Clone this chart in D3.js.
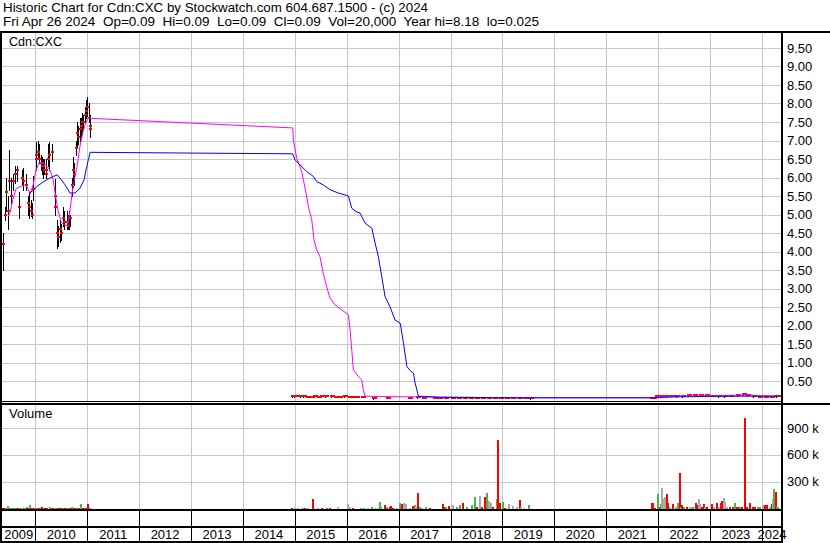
<!DOCTYPE html>
<html>
<head>
<meta charset="utf-8">
<script src="https://d3js.org/d3.v7.min.js"></script>
<style>
  body { margin: 0; background: #fff; }
  svg { display: block; font-family: "Liberation Sans", Arial, sans-serif; font-size: 13px; }
  .grid { stroke: #c8c8c8; stroke-width: 1; shape-rendering: crispEdges; }
  .frame { fill: #000; shape-rendering: crispEdges; }
  .sep { stroke: #000; stroke-width: 1; shape-rendering: crispEdges; }
  .ma { fill: none; stroke-width: 1; }
</style>
</head>
<body>
<svg id="chart" width="830" height="543"></svg>
<script>
var title = "Historic Chart for Cdn:CXC by Stockwatch.com 604.687.1500 - (c) 2024";
var subtitle = "Fri Apr 26 2024  Op=0.09  Hi=0.09  Lo=0.09  Cl=0.09  Vol=20,000  Year hi=8.18  lo=0.025";
var symbol = "Cdn:CXC";

var priceTicks = [0.5, 1, 1.5, 2, 2.5, 3, 3.5, 4, 4.5, 5, 5.5, 6, 6.5, 7, 7.5, 8, 8.5, 9, 9.5];
var volumeTicks = [300000, 600000, 900000];
var years = [2009, 2010, 2011, 2012, 2013, 2014, 2015, 2016, 2017, 2018, 2019, 2020, 2021, 2022, 2023, 2024];

// date, high, low, close
var bars = [
  ["2009-05-19", 4.5, 3.5, 4.2], ["2009-05-31", 5.2, 4.85, 5.0], ["2009-06-09", 6.0, 5.1, 5.6],
  ["2009-06-19", 5.5, 4.6, 5.1], ["2009-07-02", 6.75, 5.65, 5.9], ["2009-07-14", 6.0, 5.3, 5.5],
  ["2009-07-26", 6.1, 5.65, 5.9], ["2009-08-09", 6.3, 5.85, 6.1], ["2009-08-22", 6.3, 5.9, 6.2],
  ["2009-09-06", 5.6, 4.9, 5.2], ["2009-09-27", 6.2, 5.8, 6.0], ["2009-10-09", 6.25, 5.65, 5.9],
  ["2009-10-28", 6.1, 5.65, 5.8], ["2009-11-10", 5.5, 5.0, 5.3], ["2009-11-18", 5.6, 4.9, 5.2],
  ["2009-12-02", 5.4, 4.95, 5.1], ["2009-12-08", 5.3, 4.9, 5.0], ["2009-12-18", 6.05, 5.4, 5.7],
  ["2010-01-04", 6.95, 6.2, 6.5], ["2010-01-08", 6.9, 6.3, 6.6], ["2010-01-20", 7.0, 6.5, 6.7],
  ["2010-01-26", 6.9, 6.4, 6.5], ["2010-02-08", 6.6, 6.2, 6.4], ["2010-02-16", 6.55, 6.1, 6.3],
  ["2010-02-24", 6.5, 6.0, 6.3], ["2010-03-05", 6.5, 6.1, 6.2], ["2010-03-15", 6.5, 6.1, 6.2],
  ["2010-03-19", 6.4, 6.0, 6.1], ["2010-03-31", 6.9, 6.3, 6.5], ["2010-04-07", 6.95, 6.2, 6.6],
  ["2010-04-26", 6.9, 6.45, 6.7], ["2010-05-17", 5.95, 5.2, 5.5], ["2010-05-21", 5.7, 5.0, 5.2],
  ["2010-06-03", 4.85, 4.1, 4.5], ["2010-06-09", 4.7, 4.15, 4.4], ["2010-06-24", 4.85, 4.25, 4.6],
  ["2010-06-30", 4.75, 4.3, 4.5], ["2010-07-15", 5.2, 4.7, 4.9], ["2010-07-23", 5.1, 4.6, 4.8],
  ["2010-08-09", 5.1, 4.6, 4.8], ["2010-08-19", 5.0, 4.6, 4.7], ["2010-08-26", 5.1, 4.6, 4.9],
  ["2010-09-02", 5.0, 4.7, 4.9], ["2010-09-16", 6.0, 5.5, 5.8], ["2010-09-23", 6.55, 5.75, 6.2],
  ["2010-09-30", 6.4, 5.8, 6.1], ["2010-10-14", 7.0, 6.6, 6.8], ["2010-10-21", 7.5, 6.85, 7.2],
  ["2010-10-28", 7.4, 6.9, 7.1], ["2010-11-08", 7.6, 7.0, 7.3], ["2010-11-15", 7.6, 7.1, 7.4],
  ["2010-11-25", 7.75, 7.2, 7.5], ["2010-12-02", 7.7, 7.3, 7.5], ["2010-12-17", 7.9, 7.5, 7.7],
  ["2010-12-23", 8.1, 7.6, 7.8], ["2010-12-30", 8.18, 7.65, 7.9], ["2011-01-10", 8.0, 7.5, 7.6],
  ["2011-01-17", 7.7, 7.2, 7.4], ["2011-01-21", 7.55, 7.1, 7.3],
  ["2014-12-12", 0.10, 0.08, 0.09], ["2014-12-29", 0.10, 0.08, 0.09], ["2015-01-15", 0.10, 0.09, 0.10],
  ["2015-02-05", 0.10, 0.08, 0.09], ["2015-03-02", 0.09, 0.08, 0.09], ["2015-03-25", 0.10, 0.08, 0.08],
  ["2015-04-20", 0.09, 0.07, 0.08], ["2015-05-15", 0.10, 0.08, 0.09], ["2015-06-10", 0.09, 0.08, 0.08],
  ["2015-07-06", 0.10, 0.08, 0.09], ["2015-08-04", 0.09, 0.08, 0.09], ["2015-09-10", 0.10, 0.08, 0.09],
  ["2015-10-08", 0.09, 0.08, 0.08], ["2015-11-05", 0.09, 0.07, 0.08], ["2015-12-10", 0.09, 0.08, 0.09],
  ["2016-01-20", 0.09, 0.07, 0.08], ["2016-02-10", 0.09, 0.08, 0.08], ["2016-03-10", 0.08, 0.07, 0.08],
  ["2016-04-20", 0.08, 0.06, 0.07], ["2016-07-01", 0.07, 0.02, 0.04], ["2016-10-12", 0.06, 0.04, 0.05],
  ["2017-03-15", 0.06, 0.04, 0.05], ["2017-05-12", 0.07, 0.04, 0.06], ["2017-06-20", 0.05, 0.04, 0.05],
  ["2017-09-05", 0.06, 0.03, 0.04], ["2017-10-10", 0.05, 0.04, 0.04], ["2017-11-20", 0.06, 0.04, 0.05],
  ["2018-01-10", 0.05, 0.03, 0.04], ["2018-02-20", 0.05, 0.04, 0.04], ["2018-04-05", 0.06, 0.04, 0.05],
  ["2018-05-15", 0.05, 0.03, 0.04], ["2018-06-26", 0.05, 0.04, 0.04], ["2018-08-08", 0.05, 0.03, 0.04],
  ["2018-09-20", 0.06, 0.04, 0.05], ["2018-11-01", 0.05, 0.04, 0.04], ["2018-12-12", 0.06, 0.04, 0.05],
  ["2019-01-25", 0.05, 0.03, 0.04], ["2019-03-10", 0.05, 0.04, 0.04], ["2019-04-25", 0.05, 0.03, 0.04],
  ["2019-06-10", 0.04, 0.03, 0.03], ["2019-07-15", 0.04, 0.025, 0.03],
  ["2021-11-10", 0.05, 0.03, 0.04], ["2021-11-25", 0.06, 0.04, 0.05], ["2021-12-15", 0.10, 0.06, 0.09],
  ["2022-01-20", 0.10, 0.08, 0.09], ["2022-02-25", 0.11, 0.08, 0.10], ["2022-04-05", 0.11, 0.09, 0.10],
  ["2022-05-10", 0.10, 0.08, 0.09], ["2022-06-20", 0.11, 0.08, 0.10], ["2022-08-01", 0.12, 0.09, 0.11],
  ["2022-09-12", 0.12, 0.10, 0.11], ["2022-10-25", 0.13, 0.10, 0.12], ["2022-12-05", 0.12, 0.10, 0.11],
  ["2023-01-18", 0.11, 0.09, 0.10], ["2023-03-01", 0.11, 0.08, 0.09], ["2023-04-12", 0.10, 0.08, 0.09],
  ["2023-05-25", 0.11, 0.09, 0.10], ["2023-07-10", 0.12, 0.09, 0.11], ["2023-08-20", 0.15, 0.11, 0.14],
  ["2023-09-20", 0.15, 0.10, 0.12], ["2023-10-30", 0.11, 0.08, 0.09], ["2023-12-10", 0.10, 0.07, 0.08],
  ["2024-01-22", 0.09, 0.07, 0.08], ["2024-03-05", 0.10, 0.07, 0.08], ["2024-04-10", 0.10, 0.08, 0.09],
  ["2024-04-26", 0.09, 0.09, 0.09]
];

// short moving average (magenta)
var maShort = [
  ["2009-06-23", 4.95], ["2009-07-07", 5.05], ["2009-07-26", 5.4], ["2009-08-18", 5.7],
  ["2009-09-15", 5.75], ["2009-10-14", 5.8], ["2009-11-04", 5.75], ["2009-11-25", 5.55],
  ["2009-12-16", 5.8], ["2010-01-06", 6.2], ["2010-01-27", 6.4], ["2010-02-24", 6.4],
  ["2010-03-24", 6.3], ["2010-04-14", 6.2], ["2010-05-06", 5.95], ["2010-05-23", 5.5],
  ["2010-06-10", 5.1], ["2010-07-01", 4.8], ["2010-07-22", 4.72], ["2010-08-12", 4.7],
  ["2010-08-26", 4.9], ["2010-09-14", 5.5], ["2010-09-30", 5.9], ["2010-10-21", 6.3],
  ["2010-11-11", 6.85], ["2010-12-03", 7.25], ["2010-12-24", 7.5], ["2011-01-07", 7.6],
  ["2011-01-21", 7.6], ["2014-12-17", 7.34], ["2014-12-23", 6.98], ["2015-01-14", 6.53],
  ["2015-02-19", 6.16], ["2015-03-02", 5.94], ["2015-03-21", 5.58], ["2015-04-06", 5.22],
  ["2015-04-30", 4.86], ["2015-05-16", 4.32], ["2015-06-04", 4.04], ["2015-06-27", 3.86],
  ["2015-07-20", 3.41], ["2015-08-13", 3.05], ["2015-09-06", 2.74], ["2015-10-11", 2.56],
  ["2015-11-27", 2.42], ["2016-01-13", 2.29], ["2016-01-25", 1.88], ["2016-02-06", 1.34],
  ["2016-02-17", 0.80], ["2016-03-23", 0.62], ["2016-04-16", 0.53], ["2016-04-27", 0.26],
  ["2016-05-09", 0.09], ["2016-08-20", 0.08], ["2017-05-15", 0.07], ["2018-12-10", 0.05],
  ["2019-07-15", 0.05], ["2021-11-10", 0.05], ["2022-03-10", 0.09], ["2022-10-15", 0.10],
  ["2023-05-01", 0.11], ["2023-09-15", 0.12], ["2023-12-25", 0.10], ["2024-04-26", 0.09]
];

// long moving average (blue)
var maLong = [
  ["2009-11-18", 5.58], ["2009-12-18", 5.65], ["2010-01-11", 5.76], ["2010-02-15", 5.85],
  ["2010-03-22", 5.94], ["2010-05-08", 6.03], ["2010-06-05", 6.07], ["2010-06-24", 5.98],
  ["2010-07-29", 5.8], ["2010-09-02", 5.58], ["2010-10-07", 5.58], ["2010-11-11", 5.71],
  ["2010-12-10", 5.94], ["2010-12-24", 6.21], ["2011-01-09", 6.48], ["2011-01-21", 6.68],
  ["2014-12-17", 6.64], ["2015-01-02", 6.48], ["2015-02-07", 6.34], ["2015-03-26", 6.16],
  ["2015-05-11", 6.03], ["2015-06-04", 5.89], ["2015-07-20", 5.8], ["2015-09-06", 5.67],
  ["2015-11-03", 5.58], ["2015-12-20", 5.53], ["2016-01-13", 5.5], ["2016-02-06", 5.17],
  ["2016-03-07", 5.08], ["2016-04-04", 5.04], ["2016-05-09", 4.77], ["2016-06-26", 4.63],
  ["2016-07-19", 4.23], ["2016-08-11", 3.86], ["2016-09-04", 3.32], ["2016-09-27", 2.78],
  ["2016-11-01", 2.51], ["2016-12-06", 2.15], ["2017-01-12", 2.06], ["2017-02-04", 1.52],
  ["2017-02-28", 0.89], ["2017-03-23", 0.78], ["2017-04-15", 0.71], ["2017-04-27", 0.44],
  ["2017-05-20", 0.09], ["2017-10-15", 0.06], ["2018-12-10", 0.05], ["2019-07-15", 0.045],
  ["2021-11-10", 0.045], ["2022-04-25", 0.07], ["2023-05-01", 0.09], ["2024-04-26", 0.09]
];

// date, shares, r = down / g = up / n = unchanged
var volume = [
  ["2009-05-19", 8000, "r"], ["2009-06-01", 6000, "r"], ["2009-06-12", 8000, "g"], ["2009-06-25", 30000, "g"],
  ["2009-07-06", 8000, "r"], ["2009-07-14", 8000, "g"], ["2009-07-24", 6000, "r"], ["2009-08-04", 8000, "g"],
  ["2009-08-14", 6000, "g"], ["2009-08-25", 6000, "r"], ["2009-09-04", 8000, "r"], ["2009-09-15", 6000, "g"],
  ["2009-09-25", 6000, "g"], ["2009-10-13", 8000, "r"], ["2009-10-23", 6000, "g"], ["2009-11-03", 12000, "g"],
  ["2009-11-13", 8000, "r"], ["2009-11-24", 38000, "g"], ["2009-12-04", 8000, "r"], ["2009-12-15", 8000, "r"],
  ["2009-12-28", 6000, "g"], ["2010-01-06", 10000, "r"], ["2010-01-15", 8000, "g"], ["2010-01-27", 8000, "r"],
  ["2010-02-05", 6000, "r"], ["2010-02-19", 20000, "r"], ["2010-03-01", 8000, "g"], ["2010-03-10", 6000, "r"],
  ["2010-03-24", 8000, "r"], ["2010-04-14", 15000, "g"], ["2010-04-26", 6000, "r"], ["2010-05-06", 8000, "r"],
  ["2010-05-17", 8000, "g"], ["2010-05-27", 6000, "g"], ["2010-06-10", 6000, "r"], ["2010-06-24", 8000, "r"],
  ["2010-07-05", 6000, "r"], ["2010-07-15", 6000, "g"], ["2010-07-26", 8000, "r"], ["2010-08-05", 6000, "r"],
  ["2010-08-20", 8000, "g"], ["2010-09-01", 6000, "r"], ["2010-09-14", 15000, "g"], ["2010-09-27", 6000, "r"],
  ["2010-10-07", 8000, "r"], ["2010-10-20", 8000, "g"], ["2010-11-01", 8000, "r"], ["2010-11-18", 45000, "g"],
  ["2010-12-01", 6000, "r"], ["2010-12-10", 8000, "r"], ["2010-12-22", 6000, "r"], ["2011-01-09", 50000, "r"],
  ["2011-01-21", 8000, "g"],
  ["2014-12-09", 8000, "r"], ["2015-01-02", 8000, "n"], ["2015-01-23", 6000, "n"], ["2015-02-28", 8000, "g"],
  ["2015-03-13", 8000, "r"], ["2015-04-03", 8000, "n"], ["2015-05-09", 105000, "r"], ["2015-05-16", 6000, "g"],
  ["2015-06-13", 8000, "n"], ["2015-07-11", 8000, "r"], ["2015-08-15", 8000, "g"], ["2015-09-05", 6000, "r"],
  ["2015-11-01", 12000, "n"], ["2016-01-11", 49000, "n"], ["2016-01-25", 20000, "n"], ["2016-02-13", 8000, "r"],
  ["2016-04-10", 8000, "g"], ["2016-05-01", 6000, "g"], ["2016-05-29", 8000, "n"], ["2016-06-26", 20000, "g"],
  ["2016-07-17", 8000, "n"], ["2016-08-07", 8000, "n"], ["2016-08-21", 71000, "g"], ["2016-09-02", 20000, "g"],
  ["2016-09-26", 37000, "r"], ["2016-10-10", 12000, "g"], ["2016-10-31", 12000, "r"], ["2016-11-07", 26000, "r"],
  ["2016-11-23", 8000, "r"], ["2016-12-21", 8000, "n"], ["2017-01-11", 60000, "g"], ["2017-01-23", 49000, "r"],
  ["2017-02-08", 56000, "n"], ["2017-02-19", 45000, "n"], ["2017-03-23", 8000, "n"], ["2017-04-15", 26000, "r"],
  ["2017-04-27", 37000, "g"], ["2017-05-04", 20000, "n"], ["2017-05-20", 172000, "r"], ["2017-05-29", 15000, "g"],
  ["2017-06-16", 8000, "n"], ["2017-07-12", 15000, "g"], ["2017-08-11", 8000, "r"], ["2017-11-06", 49000, "r"],
  ["2017-11-18", 15000, "r"], ["2017-12-02", 15000, "g"], ["2017-12-18", 26000, "r"], ["2018-01-21", 37000, "n"],
  ["2018-02-14", 12000, "g"], ["2018-03-09", 37000, "g"], ["2018-04-02", 60000, "r"], ["2018-04-28", 12000, "g"],
  ["2018-05-31", 37000, "g"], ["2018-06-23", 127000, "g"], ["2018-07-07", 20000, "r"], ["2018-07-28", 142000, "n"],
  ["2018-08-13", 12000, "r"], ["2018-08-30", 131000, "r"], ["2018-09-17", 172000, "g"], ["2018-10-01", 86000, "n"],
  ["2018-10-13", 60000, "n"], ["2018-10-29", 12000, "r"], ["2018-11-22", 105000, "g"], ["2018-12-03", 761000, "r"],
  ["2018-12-15", 60000, "r"], ["2019-01-02", 71000, "g"], ["2019-01-21", 8000, "r"], ["2019-02-20", 49000, "n"],
  ["2019-03-18", 26000, "n"], ["2019-04-13", 12000, "n"], ["2019-05-06", 94000, "r"], ["2019-05-11", 15000, "n"],
  ["2019-06-03", 8000, "n"], ["2019-07-04", 37000, "g"],
  ["2021-11-16", 64000, "r"], ["2021-11-28", 56000, "r"], ["2021-12-10", 8000, "r"], ["2022-01-03", 165000, "g"],
  ["2022-01-11", 12000, "r"], ["2022-01-18", 45000, "g"], ["2022-01-29", 225000, "n"], ["2022-02-07", 101000, "n"],
  ["2022-02-17", 131000, "n"], ["2022-03-03", 157000, "r"], ["2022-03-14", 56000, "r"], ["2022-03-26", 12000, "n"],
  ["2022-04-19", 45000, "r"], ["2022-05-08", 12000, "n"], ["2022-05-24", 56000, "g"], ["2022-06-02", 393000, "r"],
  ["2022-06-12", 12000, "n"], ["2022-06-21", 34000, "r"], ["2022-07-05", 22000, "g"], ["2022-07-22", 12000, "r"],
  ["2022-08-14", 12000, "n"], ["2022-08-28", 22000, "n"], ["2022-09-06", 22000, "g"], ["2022-09-23", 56000, "r"],
  ["2022-10-02", 34000, "r"], ["2022-10-14", 101000, "n"], ["2022-10-23", 45000, "n"], ["2022-11-04", 22000, "r"],
  ["2022-11-18", 45000, "r"], ["2022-11-29", 12000, "n"], ["2022-12-13", 12000, "r"], ["2023-01-13", 45000, "r"],
  ["2023-01-29", 12000, "n"], ["2023-02-17", 56000, "r"], ["2023-03-05", 12000, "n"], ["2023-03-17", 56000, "r"],
  ["2023-03-26", 79000, "r"], ["2023-04-07", 112000, "n"], ["2023-04-18", 67000, "n"], ["2023-05-02", 12000, "n"],
  ["2023-05-21", 12000, "r"], ["2023-06-09", 22000, "r"], ["2023-06-27", 56000, "g"], ["2023-07-09", 12000, "r"],
  ["2023-07-18", 22000, "r"], ["2023-07-30", 12000, "g"], ["2023-08-15", 22000, "r"], ["2023-09-05", 1011000, "r"],
  ["2023-09-22", 12000, "r"], ["2023-10-13", 56000, "r"], ["2023-10-31", 12000, "r"], ["2023-11-14", 12000, "r"],
  ["2023-12-03", 12000, "g"], ["2023-12-21", 12000, "g"], ["2024-01-10", 34000, "n"], ["2024-01-24", 34000, "r"],
  ["2024-02-03", 34000, "r"], ["2024-02-26", 12000, "n"], ["2024-03-16", 45000, "r"], ["2024-03-23", 101000, "n"],
  ["2024-03-30", 221000, "g"], ["2024-04-08", 183000, "r"], ["2024-04-17", 22000, "g"], ["2024-04-24", 12000, "g"]
];

var volColor = { r: "#ff0000", g: "#44b944", n: "#aaaaaa" };

var svg = d3.select("svg#chart"),
    left = 2, right = 782,
    priceTop = 32, priceBottom = 401,
    volTop = 405, volBottom = 509;

var parseDate = d3.timeParse("%Y-%m-%d");

var x = d3.scaleTime()
  .domain([parseDate("2009-05-11"), parseDate("2024-05-22")])
  .range([left, right]);
var y = d3.scaleLinear().domain([0, 10]).range([399.5, 29.5]);
var yVol = d3.scaleLinear().domain([0, 1200000]).range([508.5, 401]);

function px(v) { return Math.round(v) + 0.5; }

var yearStarts = years.slice(1).map(function(yr) { return new Date(yr, 0, 1); });

// header (the spacing of the original is kept with non-breaking spaces)
svg.append("text").attr("x", 3).attr("y", 12)
  .attr("textLength", 425).attr("lengthAdjust", "spacingAndGlyphs")
  .text(title);
svg.append("text").attr("x", 3).attr("y", 25.5)
  .attr("textLength", 536).attr("lengthAdjust", "spacingAndGlyphs")
  .text(subtitle.replace(/  /g, "\u00a0 "));

// grid
var grid = svg.append("g");
grid.selectAll("line.hp").data(priceTicks).enter().append("line")
  .attr("class", "grid")
  .attr("x1", left).attr("x2", right)
  .attr("y1", function(d) { return px(y(d)); })
  .attr("y2", function(d) { return px(y(d)); });
grid.selectAll("line.hv").data(volumeTicks).enter().append("line")
  .attr("class", "grid")
  .attr("x1", left).attr("x2", right)
  .attr("y1", function(d) { return px(yVol(d)); })
  .attr("y2", function(d) { return px(yVol(d)); });
grid.selectAll("line.vp").data(yearStarts).enter().append("line")
  .attr("class", "grid")
  .attr("x1", function(d) { return px(x(d)); })
  .attr("x2", function(d) { return px(x(d)); })
  .attr("y1", priceTop).attr("y2", priceBottom);
grid.selectAll("line.vv").data(yearStarts).enter().append("line")
  .attr("class", "grid")
  .attr("x1", function(d) { return px(x(d)); })
  .attr("x2", function(d) { return px(x(d)); })
  .attr("y1", volTop).attr("y2", volBottom);

svg.append("text").attr("x", 9).attr("y", 46)
  .attr("textLength", 53).attr("lengthAdjust", "spacingAndGlyphs")
  .text(symbol);
svg.append("text").attr("x", 9).attr("y", 418).text("Volume");

svg.append("clipPath").attr("id", "priceClip")
  .append("rect").attr("x", left).attr("y", priceTop).attr("width", right - left).attr("height", priceBottom - priceTop);

var price = svg.append("g").attr("clip-path", "url(#priceClip)");

// high-low bars
price.selectAll("line.bar").data(bars).enter().append("line")
  .attr("stroke", "#000")
  .attr("stroke-width", 1)
  .attr("shape-rendering", "crispEdges")
  .attr("x1", function(d) { return px(x(parseDate(d[0]))); })
  .attr("x2", function(d) { return px(x(parseDate(d[0]))); })
  .attr("y1", function(d) { return Math.round(y(d[1])); })
  .attr("y2", function(d) { return Math.round(y(d[2])) + 1; });

// closes
price.selectAll("rect.close").data(bars).enter().append("rect")
  .attr("fill", "#ff0000")
  .attr("x", function(d) { return Math.round(x(parseDate(d[0]))) - 1; })
  .attr("y", function(d) { return Math.round(y(d[3])) - 1; })
  .attr("width", function(d) { return d[3] < 0.5 ? 5 : 3; })
  .attr("height", 2);

var line = d3.line()
  .x(function(d) { return x(parseDate(d[0])); })
  .y(function(d) { return y(d[1]); });

price.append("path").datum(maShort).attr("class", "ma").attr("stroke", "#ff00ff").attr("d", line);
price.append("path").datum(maLong).attr("class", "ma").attr("stroke", "#0000ff").attr("d", line);

// volume bars
svg.append("g").selectAll("rect").data(volume).enter().append("rect")
  .attr("fill", function(d) { return volColor[d[2]]; })
  .attr("shape-rendering", "crispEdges")
  .attr("x", function(d) { return Math.round(x(parseDate(d[0]))) - 1; })
  .attr("y", function(d) { return Math.round(yVol(d[1])); })
  .attr("width", 2)
  .attr("height", function(d) { return volBottom - Math.round(yVol(d[1])); });

// frame
svg.append("rect").attr("class", "frame").attr("x", 0).attr("y", 31).attr("width", 830).attr("height", 2);
svg.append("rect").attr("class", "frame").attr("x", 0).attr("y", 31).attr("width", 2).attr("height", 512);
svg.append("rect").attr("class", "frame").attr("x", 781).attr("y", 31).attr("width", 2).attr("height", 512);
svg.append("rect").attr("class", "frame").attr("x", 0).attr("y", 401).attr("width", right).attr("height", 1);
svg.append("rect").attr("class", "frame").attr("x", 0).attr("y", 403).attr("width", 830).attr("height", 2);
svg.append("rect").attr("class", "frame").attr("x", 0).attr("y", 509).attr("width", right).attr("height", 2);
svg.append("rect").attr("class", "frame").attr("x", 0).attr("y", 526).attr("width", right).attr("height", 2);
svg.append("rect").attr("class", "frame").attr("x", 0).attr("y", 541).attr("width", right).attr("height", 2);

svg.selectAll("line.sep").data(yearStarts).enter().append("line")
  .attr("class", "sep")
  .attr("x1", function(d) { return px(x(d)); })
  .attr("x2", function(d) { return px(x(d)); })
  .attr("y1", 511).attr("y2", 541);

// year labels centred in the visible part of each year
svg.append("g").selectAll("text").data(years).enter().append("text")
  .attr("text-anchor", "middle")
  .attr("y", 539)
  .attr("x", function(d) {
    var a = Math.max(x(new Date(d, 0, 1)), left),
        b = Math.min(x(new Date(d + 1, 0, 1)), right);
    return (a + b) / 2;
  })
  .text(function(d) { return d; });

// right axis labels
svg.append("g").selectAll("text").data(priceTicks).enter().append("text")
  .attr("x", 787)
  .attr("y", function(d) { return y(d); })
  .attr("dy", "0.36em")
  .text(function(d) { return d3.format(".2f")(d); });

svg.append("g").selectAll("text").data(volumeTicks).enter().append("text")
  .attr("x", 787)
  .attr("y", function(d) { return yVol(d); })
  .attr("dy", "0.36em")
  .text(function(d) { return (d / 1000) + " k"; });
</script>
</body>
</html>
